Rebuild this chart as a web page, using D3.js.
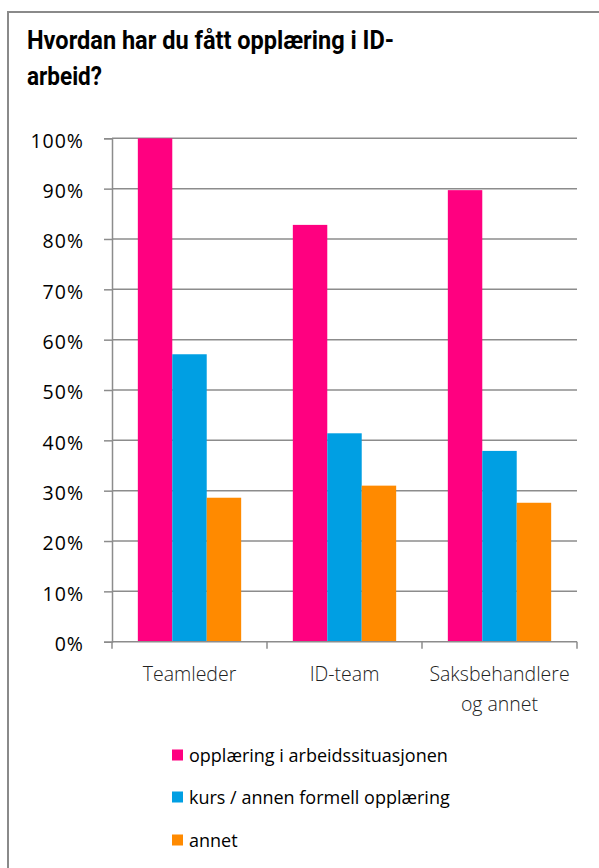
<!DOCTYPE html>
<html><head><meta charset="utf-8">
<script src="https://cdn.jsdelivr.net/npm/d3@7"></script>
<style>body{margin:0;background:#fff}svg{display:block}</style>
</head><body>
<script>
const categories = [["Teamleder"], ["ID-team"], ["Saksbehandlere", "og annet"]];
const seriesNames = ["opplæring i arbeidssituasjonen", "kurs / annen formell opplæring", "annet"];
const seriesColors = ["#ff0080", "#009fe3", "#ff8a00"];
const opplaering = [100, 82.8, 89.7];
const kurs = [57.1, 41.4, 37.9];
const annet = [28.6, 31.0, 27.6];
const yTicks = [0, 10, 20, 30, 40, 50, 60, 70, 80, 90, 100];
const series = [opplaering, kurs, annet];

(function () {
const W = 599, H = 868;
const svg = d3.select("body").append("svg").attr("width", W).attr("height", H);
svg.append("rect").attr("x", 8).attr("y", 12).attr("width", 620).attr("height", 900)
  .attr("fill", "#fff").attr("stroke", "#8a8a8a").attr("stroke-width", 2);

const title = svg.append("text").attr("font-family", "'Liberation Sans Narrow', 'Roboto', sans-serif").attr("font-weight", 700)
  .attr("font-size", 25).attr("fill", "#000");
title.append("tspan").attr("x", 27).attr("y", 49).attr("textLength", 367).attr("lengthAdjust", "spacingAndGlyphs")
  .text("Hvordan har du fått opplæring i ID-");
title.append("tspan").attr("x", 27).attr("y", 85).attr("textLength", 75).attr("lengthAdjust", "spacingAndGlyphs")
  .text("arbeid?");

const pLeft = 112, pRight = 577, pTop = 138.3, pBottom = 641.7;
const x0 = d3.scaleBand().domain(d3.range(categories.length)).range([pLeft, pRight]).paddingInner(0).paddingOuter(0);
const x1 = d3.scaleBand().domain(d3.range(series.length)).range([0, x0.bandwidth()]).paddingOuter(0.75).paddingInner(0);
const y = d3.scaleLinear().domain([0, 100]).range([pBottom, pTop]);

svg.append("g").selectAll("line").data(yTicks.filter(d => d > 0)).join("line")
  .attr("x1", pLeft).attr("x2", pRight).attr("y1", d => y(d)).attr("y2", d => y(d))
  .attr("stroke", "#8c8c8c").attr("stroke-width", 1.5);

const yAxis = svg.append("g").attr("transform", `translate(${pLeft},0)`)
  .call(d3.axisLeft(y).tickValues(yTicks).tickFormat(d => d + "%").tickSize(8).tickPadding(20));
yAxis.select(".domain").attr("stroke", "#8c8c8c").attr("stroke-width", 1.5);
yAxis.selectAll(".tick line").attr("stroke", "#8c8c8c").attr("stroke-width", 1.5);
yAxis.selectAll("text").attr("font-family", "Open Sans").attr("font-size", 19.5).attr("fill", "#000")
  .attr("dy", "0.45em").attr("letter-spacing", 1);

categories.forEach((c, i) => {
  svg.append("g").attr("transform", `translate(${x0(i)},0)`).selectAll("rect")
    .data(series.map((s, j) => ({j, v: s[i]}))).join("rect")
    .attr("x", d => x1(d.j)).attr("width", x1.bandwidth())
    .attr("y", d => y(d.v)).attr("height", d => pBottom - y(d.v))
    .attr("fill", d => seriesColors[d.j]);
});

svg.append("line").attr("x1", pLeft).attr("x2", pRight).attr("y1", pBottom).attr("y2", pBottom)
  .attr("stroke", "#8c8c8c").attr("stroke-width", 1.5);
const boundaries = d3.range(categories.length + 1).map(i => pLeft + i * x0.step());
svg.append("g").selectAll("line").data(boundaries).join("line")
  .attr("x1", d => d).attr("x2", d => d).attr("y1", pBottom).attr("y2", pBottom + 7)
  .attr("stroke", "#8c8c8c").attr("stroke-width", 1.5);
categories.forEach((c, i) => {
  const t = svg.append("text").attr("text-anchor", "middle").attr("font-family", "Open Sans")
    .attr("font-weight", 300).attr("font-size", 19.5).attr("fill", "#222");
  c.forEach((line, k) => t.append("tspan").attr("x", x0(i) + x0.bandwidth() / 2).attr("y", 681 + k * 30).text(line));
});

const legY = [755, 797, 840];
seriesNames.forEach((n, j) => {
  svg.append("rect").attr("x", 172).attr("y", legY[j] - 5.5).attr("width", 11).attr("height", 11).attr("fill", seriesColors[j]);
  svg.append("text").attr("x", 189).attr("y", legY[j] + 6.5).attr("font-family", "Open Sans")
    .attr("font-size", 18).attr("fill", "#000").text(n);
});
})();
</script>
</body></html>
